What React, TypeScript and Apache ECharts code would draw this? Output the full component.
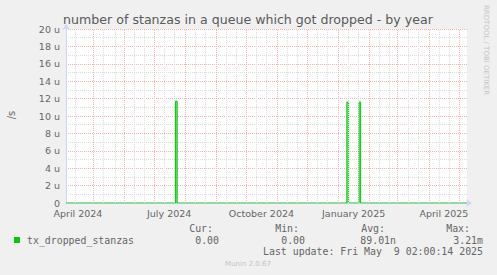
import React, { useEffect, useRef } from "react";
import * as echarts from "echarts";

// ---- data ----
const TITLE = "number of stanzas in a queue which got dropped - by year";
const Y_UNIT_LABEL = "/s";
const WATERMARK = "RRDTOOL / TOBI OETIKER";
const FOOTER = "Munin 2.0.67";

const X_START = "2024-04-04T02:00:14Z";
const X_END = "2025-05-09T02:00:14Z";

const X_LABELS = ["April 2024", "July 2024", "October 2024", "January 2025", "April 2025"];
const X_LABEL_DATES = ["2024-04-16", "2024-07-16", "2024-10-16", "2025-01-16", "2025-04-16"];

const MONTH_LINES = [
  "2024-05-01", "2024-06-01", "2024-07-01", "2024-08-01", "2024-09-01", "2024-10-01",
  "2024-11-01", "2024-12-01", "2025-01-01", "2025-02-01", "2025-03-01", "2025-04-01", "2025-05-01",
];
const MINOR_LINES = [
  "2024-04-13", "2024-05-11", "2024-05-23", "2024-06-11", "2024-06-21", "2024-07-11", "2024-07-21",
  "2024-08-11", "2024-08-21", "2024-09-11", "2024-09-21", "2024-10-11", "2024-10-21",
  "2024-11-11", "2024-11-21", "2024-12-11", "2024-12-21", "2025-01-11", "2025-01-21",
  "2025-02-11", "2025-02-21", "2025-03-11", "2025-03-21", "2025-04-11", "2025-04-21",
];

const Y_MIN = 0;
const Y_MAX = 20;
const Y_STEP = 2;

const SERIES_NAME = "tx_dropped_stanzas";
const SPIKE_STARTS = ["2024-07-22T06:00:00Z", "2025-01-09T06:00:00Z", "2025-01-21T06:00:00Z"];
const SPIKE_ENDS = ["2024-07-24T00:00:00Z", "2025-01-11T00:00:00Z", "2025-01-23T00:00:00Z"];
const SPIKE_VALUES = [11.7, 11.6, 11.6]; // micro per second

const STAT_HEADERS = ["Cur:", "Min:", "Avg:", "Max:"];
const STAT_VALUES = ["0.00", "0.00", "89.01n", "3.21m"];
const LAST_UPDATE = "Last update: Fri May  9 02:00:14 2025";

// ---- styles ----
const FONT = "DejaVu Sans";
const MONO = "DejaVu Sans Mono";
const FONT_COLOR = "#666666";
const MAJOR = "#f3b4b4";
const MINOR = "#dcdcdc";
const AXIS = "#CFD6F8";
const GREEN = "#00cc00";

const t = (s: string) => new Date(s.length <= 10 ? s + "T00:00:00Z" : s).getTime();

function buildPoints(): [number, number][] {
  const pts: [number, number][] = [[t(X_START), 0]];
  SPIKE_STARTS.forEach((s, i) => {
    pts.push([t(s), 0]);
    pts.push([t(s), SPIKE_VALUES[i]]);
    pts.push([t(SPIKE_ENDS[i]), SPIKE_VALUES[i]]);
    pts.push([t(SPIKE_ENDS[i]), 0]);
  });
  pts.push([t(X_END), 0]);
  return pts;
}

export default function App() {
  const ref = useRef<HTMLDivElement>(null);
  useEffect(() => {
    const chart = echarts.init(ref.current!, null, { renderer: "svg", width: 497, height: 275 });
    const gridLines = [
      ...MINOR_LINES.map((d) => ({ xAxis: t(d), lineStyle: { color: MINOR, type: [1, 1], width: 1 } })),
      ...MONTH_LINES.map((d) => ({ xAxis: t(d), lineStyle: { color: MAJOR, type: [1, 1], width: 1 } })),
    ];
    const statHeaderX = [213, 299, 385, 470];
    const statValueX = [219, 305, 396, 483];
    const graphics: any[] = [
      {
        type: "text", x: 248, y: 19,
        style: { text: TITLE, font: `12.6px '${FONT}'`, fill: "#5a5a5a", textAlign: "center", textVerticalAlign: "middle" },
      },
      {
        type: "text", x: 11, y: 115, rotation: Math.PI / 2,
        style: { text: Y_UNIT_LABEL, font: `10px '${FONT}'`, fill: FONT_COLOR, textAlign: "center", textVerticalAlign: "middle" },
      },
      {
        type: "text", x: 485.5, y: 5, rotation: -Math.PI / 2,
        style: { text: WATERMARK, font: `7px '${FONT}'`, fill: "#c4c4c4", textAlign: "left", textVerticalAlign: "middle" },
      },
      { type: "rect", shape: { x: 14, y: 237, width: 6, height: 6 }, style: { fill: GREEN } },
      {
        type: "text", x: 27, y: 240,
        style: { text: SERIES_NAME, font: `9.9px '${MONO}'`, fill: FONT_COLOR, textAlign: "left", textVerticalAlign: "middle" },
      },
      ...STAT_HEADERS.map((h, i) => ({
        type: "text", x: statHeaderX[i], y: 228,
        style: { text: h, font: `9.9px '${MONO}'`, fill: FONT_COLOR, textAlign: "right", textVerticalAlign: "middle" },
      })),
      ...STAT_VALUES.map((v, i) => ({
        type: "text", x: statValueX[i], y: 240,
        style: { text: v, font: `9.9px '${MONO}'`, fill: FONT_COLOR, textAlign: "right", textVerticalAlign: "middle" },
      })),
      {
        type: "text", x: 483, y: 251.5,
        style: { text: LAST_UPDATE, font: `9.9px '${MONO}'`, fill: FONT_COLOR, textAlign: "right", textVerticalAlign: "middle" },
      },
      {
        type: "text", x: 248, y: 264,
        style: { text: FOOTER, font: `7px '${FONT}'`, fill: "#c4c4c4", textAlign: "center", textVerticalAlign: "middle" },
      },
    ];

    chart.setOption({
      animation: false,
      backgroundColor: "#f0f0f0",
      grid: { left: 66, top: 29, width: 401, height: 174, show: true, backgroundColor: "#ffffff", borderWidth: 0 },
      xAxis: {
        type: "value",
        min: t(X_START),
        max: t(X_END),
        axisLine: { show: true, symbol: ["none", "arrow"], symbolSize: [6, 6], symbolOffset: [0, 5], lineStyle: { color: AXIS, width: 1 } },
        axisTick: { show: false },
        splitLine: { show: false },
        axisLabel: {
          customValues: X_LABEL_DATES.map(t),
          formatter: (v: number) => {
            const i = X_LABEL_DATES.findIndex((d) => Math.abs(t(d) - v) < 86400000);
            return i >= 0 ? X_LABELS[i] : "";
          },
          fontFamily: FONT, fontSize: 9.5, color: FONT_COLOR, margin: 5, hideOverlap: false,
          showMinLabel: true, showMaxLabel: true,
        },
      },
      yAxis: {
        type: "value",
        min: Y_MIN, max: Y_MAX, interval: Y_STEP,
        axisLine: { show: true, symbol: ["none", "arrow"], symbolSize: [6, 6], symbolOffset: [0, 5], lineStyle: { color: AXIS, width: 1 } },
        axisTick: { show: false },
        splitLine: { show: true, lineStyle: { color: MAJOR, type: [1, 1], width: 1 } },
        minorTick: { show: false, splitNumber: 2 },
        minorSplitLine: { show: true, lineStyle: { color: MINOR, type: [1, 1], width: 1 } },
        axisLabel: {
          formatter: (v: number) => (v === 0 ? "0" : `${v} u`),
          fontFamily: FONT, fontSize: 9.5, color: FONT_COLOR, margin: 6,
        },
      },
      series: [
        {
          type: "line",
          data: [],
          silent: true,
          z: 1,
          markLine: { silent: true, symbol: ["none", "none"], label: { show: false }, animation: false, data: gridLines },
        },
        {
          name: SERIES_NAME,
          type: "line",
          data: buildPoints(),
          showSymbol: false,
          symbol: "none",
          z: 3,
          lineStyle: { color: GREEN, width: 1 },
          areaStyle: { color: "#7ee07e", opacity: 1 },
        },
      ],
      graphic: graphics,
    });
    return () => chart.dispose();
  }, []);
  return (
    <div
      ref={ref}
      style={{ position: "absolute", left: 0, top: 0, width: 497, height: 275, background: "#f0f0f0" }}
    />
  );
}
